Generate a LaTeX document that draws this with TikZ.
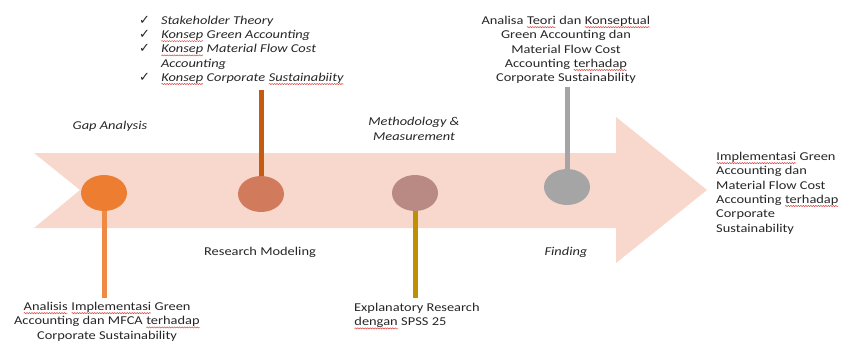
\documentclass[tikz,border=0pt]{standalone}
\usepackage{fontspec}
\setmainfont{Carlito}[FakeStretch=1.2]
\newfontfamily\symfont{DejaVu Sans}
\usetikzlibrary{shapes.geometric,decorations.pathmorphing}
\definecolor{arrowfill}{HTML}{F8D8CC}
\definecolor{cA}{HTML}{ED7D31}
\definecolor{cB}{HTML}{D27A5C}
\definecolor{cC}{HTML}{B98A84}
\definecolor{cD}{HTML}{A5A5A5}
\definecolor{lA}{HTML}{EE8A45}
\definecolor{lB}{HTML}{C55A11}
\definecolor{lC}{HTML}{BF9000}
\definecolor{lD}{HTML}{A5A5A5}
\definecolor{txtc}{HTML}{262626}
\definecolor{spell}{HTML}{E04848}
\newcommand{\ck}{{\symfont\fontsize{13}{12}\selectfont ✓}}
\newcommand{\sq}[1]{\tikz[baseline=(w.base)]{\node[inner sep=0pt,outer sep=0pt] (w) {#1};%
  \draw[spell, line width=0.5pt, decorate, decoration={snake, amplitude=0.6pt, segment length=2.5pt}]
    ([yshift=-2.6pt]w.base west) -- ([yshift=-2.6pt]w.base east);}}
\begin{document}
\begin{tikzpicture}[x=1pt,y=-1pt,
  txt/.style={font=\fontsize{12}{14.3}\selectfont, text=txtc, inner sep=0pt},
  itxt/.style={txt, font=\fontsize{12}{14.3}\selectfont\itshape},
  dot/.style={ellipse, minimum width=46pt, minimum height=36pt, inner sep=0pt},
  stem/.style={line width=5pt}]
\useasboundingbox (0,0) rectangle (842,342);
% big arrow
\fill[arrowfill] (34,153) -- (616,153) -- (616,117) -- (707,190) -- (616,263) -- (616,228) -- (34,228) -- (80,190) -- cycle;
% stem end points
\coordinate (s1) at (104,298);
\coordinate (s2) at (261,90);
\coordinate (s3) at (415,298);
\coordinate (s4) at (567,87);
% dots
\node[dot, fill=cA] (c1) at (104,193) {};
\node[dot, fill=cB] (c2) at (261,194) {};
\node[dot, fill=cC] (c3) at (415,193) {};
\node[dot, fill=cD] (c4) at (567,187) {};
\draw[stem, lA] (c1.south) -- (s1);
\draw[stem, lB] (s2) -- (c2.north);
\draw[stem, lC] (c3.south) -- (s3);
\draw[stem, lD] (s4) -- (c4.north);
% labels on the arrow
\node[itxt] (gap) at (110,126) {Gap Analysis};
\node[txt] (rm) at (260,252) {Research Modeling};
\node[itxt, align=center] (mm) at (414,129) {Methodology \&\\Measurement};
\node[itxt] (fd) at (566,252) {Finding};
% top checklist
\node[txt, anchor=north west] (theory) at (139,14) {%
  \begin{tabular}{@{}l@{\hspace{11pt}}l@{}}
  \ck & \textit{Stakeholder Theory}\\
  \ck & \textit{\sq{Konsep} Green Accounting}\\
  \ck & \textit{\sq{Konsep} Material Flow Cost}\\
      & \textit{Accounting}\\
  \ck & \textit{\sq{Konsep} Corporate \sq{Sustainabiity}}
  \end{tabular}};
% top right block
\node[txt, anchor=north, align=center] (analisa) at (566,16) {Analisa \sq{Teori} dan \sq{Konseptual}\\Green Accounting dan\\Material Flow Cost\\Accounting \sq{terhadap}\\Corporate Sustainability};
% bottom left
\node[txt, anchor=north, align=center] (gapres) at (107,302) {\sq{Analisis} \sq{Implementasi} Green\\Accounting dan MFCA \sq{terhadap}\\Corporate Sustainability};
% bottom middle
\node[txt, anchor=north west, align=left] (expl) at (354,303) {Explanatory Research\\\sq{dengan} SPSS 25};
% right result
\node[txt, anchor=north west, align=left] (res) at (716,152) {\sq{Implementasi} Green\\Accounting dan\\Material Flow Cost\\Accounting \sq{terhadap}\\Corporate\\Sustainability};
\end{tikzpicture}
\end{document}
